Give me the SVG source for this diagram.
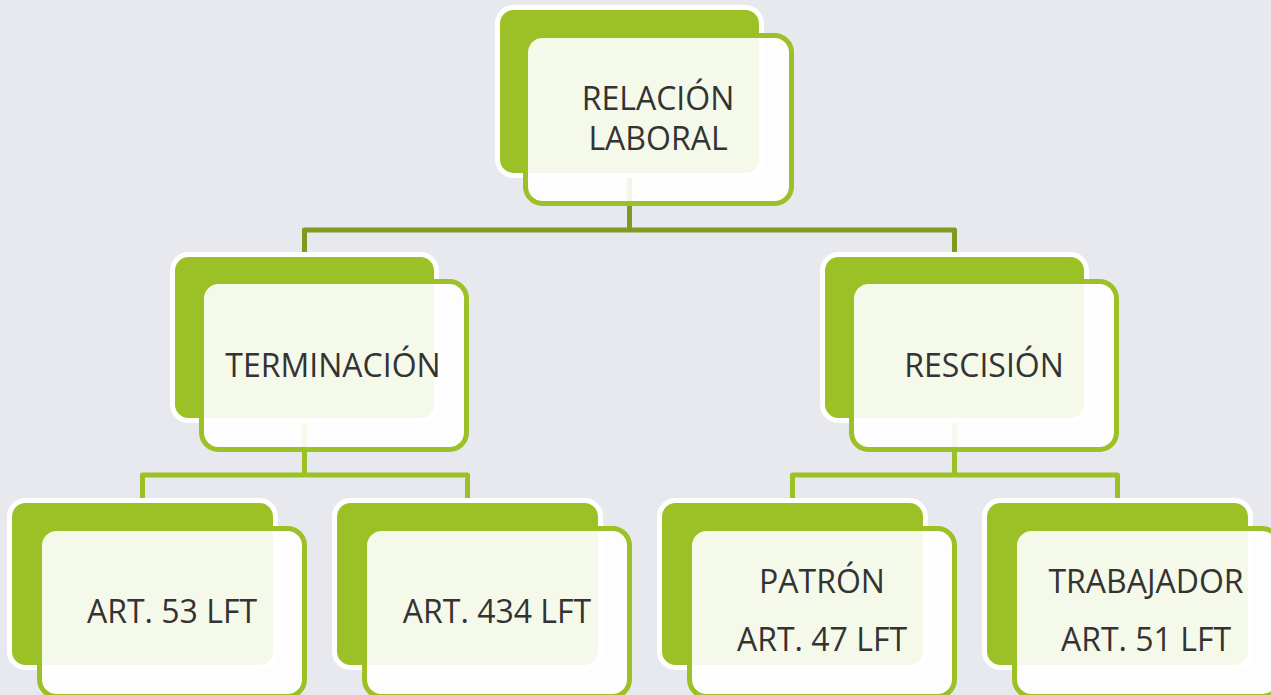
<svg xmlns="http://www.w3.org/2000/svg" width="1271" height="695" viewBox="0 0 1271 695">
<style>
.back{fill:#9bc126;stroke:#ffffff;stroke-width:5}
.front{fill:#ffffff;fill-opacity:0.9;stroke:#9bc126;stroke-width:5}
.lbl{font-family:"Open Sans","Liberation Sans",sans-serif;font-size:32px;fill:#333333;text-anchor:middle}
.c1{fill:none;stroke:#7d9b1f;stroke-width:5;stroke-linejoin:round}
.c2{fill:none;stroke:#9bc126;stroke-width:5;stroke-linejoin:round}
</style>
<rect width="1271" height="695" fill="#e8e9ee"/>
<g id="connectors">
<path class="c1" d="M629.5 173 V230 M304.5 255 V230 H954.5 V255"/>
<path class="c2" d="M304.5 418 V475 M142.5 500 V475 H467.5 V500"/>
<path class="c2" d="M954.5 418 V475 M792.5 500 V475 H1117.5 V500"/>
</g>
<g id="relacion">
<rect class="back" x="497.5" y="7.5" width="264" height="168" rx="16"/>
<rect class="front" x="525.5" y="35.5" width="266" height="168" rx="17"/>
<text class="lbl" x="658" y="110">RELACIÓN</text>
<text class="lbl" x="658" y="150">LABORAL</text>
</g>
<g id="terminacion">
<rect class="back" x="172.5" y="254.5" width="264" height="166" rx="16"/>
<rect class="front" x="201.5" y="281.5" width="265" height="168" rx="17"/>
<text class="lbl" x="333" y="377">TERMINACIÓN</text>
</g>
<g id="rescision">
<rect class="back" x="822.5" y="254.5" width="264" height="166" rx="16"/>
<rect class="front" x="851.5" y="281.5" width="265" height="168" rx="17"/>
<text class="lbl" x="984" y="377">RESCISIÓN</text>
</g>
<g id="art53">
<rect class="back" x="9.5" y="500.5" width="266" height="167" rx="16"/>
<rect class="front" x="39.5" y="528.5" width="265" height="168" rx="17"/>
<text class="lbl" x="172" y="623">ART. 53 LFT</text>
</g>
<g id="art434">
<rect class="back" x="334.5" y="500.5" width="266" height="167" rx="16"/>
<rect class="front" x="364.5" y="528.5" width="265" height="168" rx="17"/>
<text class="lbl" x="497" y="623">ART. 434 LFT</text>
</g>
<g id="patron">
<rect class="back" x="659.5" y="500.5" width="266" height="167" rx="16"/>
<rect class="front" x="689.5" y="528.5" width="265" height="168" rx="17"/>
<text class="lbl" x="822" y="593">PATRÓN</text>
<text class="lbl" x="822" y="651">ART. 47 LFT</text>
</g>
<g id="trabajador">
<rect class="back" x="984.5" y="500.5" width="266" height="167" rx="16"/>
<rect class="front" x="1014.5" y="528.5" width="265" height="168" rx="17"/>
<text class="lbl" x="1146" y="593">TRABAJADOR</text>
<text class="lbl" x="1146" y="651">ART. 51 LFT</text>
</g>
</svg>
